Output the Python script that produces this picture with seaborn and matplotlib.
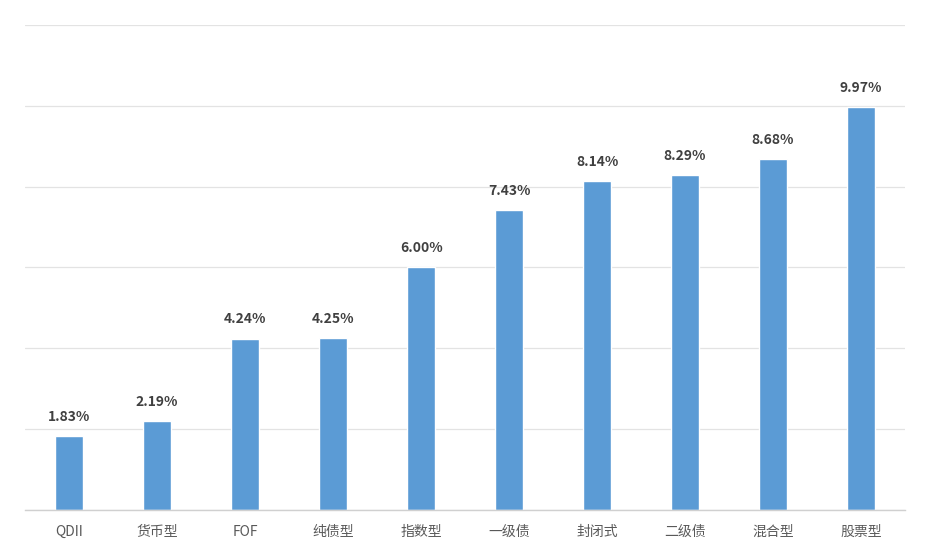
import pandas as pd
import matplotlib
matplotlib.use("Agg")
import matplotlib.pyplot as plt
import seaborn as sns

# fund types and their returns (%)
categories = ["QDII", "货币型", "FOF", "纯债型", "指数型", "一级债", "封闭式", "二级债", "混合型", "股票型"]
returns = [1.83, 2.19, 4.24, 4.25, 6.00, 7.43, 8.14, 8.29, 8.68, 9.97]

df = pd.DataFrame({"type": categories, "ret": returns})

sns.set_theme(style="white")
plt.rcParams["font.family"] = ["Noto Sans CJK SC", "DejaVu Sans"]

fig = plt.figure(figsize=(9.35, 5.56), dpi=100)
ax = fig.add_axes([0.027, 0.083, 0.941, 0.872])

sns.barplot(data=df, x="type", y="ret", color="#5B9BD5", width=0.32,
            saturation=1, ax=ax)

ax.set_ylim(0, 12)
ax.set_xlim(-0.5, len(categories) - 0.5)
ax.set_yticks([0, 2, 4, 6, 8, 10, 12])
ax.yaxis.grid(True, color="#E3E3E3", linewidth=0.9)
ax.set_axisbelow(True)
ax.tick_params(axis="y", left=False, labelleft=False)
ax.tick_params(axis="x", bottom=False, labelsize=10, labelcolor="#595959", pad=5)
ax.set_xlabel("")
ax.set_ylabel("")

for s in ["top", "right", "left"]:
    ax.spines[s].set_visible(False)
ax.spines["bottom"].set_color("#D0D0D0")
ax.spines["bottom"].set_linewidth(1)

for i, v in enumerate(returns):
    ax.text(i, v + 0.3, f"{v:.2f}%", ha="center", va="bottom",
            fontsize=10, color="#404040", fontweight="bold")

fig.savefig("out.png", dpi=100)
